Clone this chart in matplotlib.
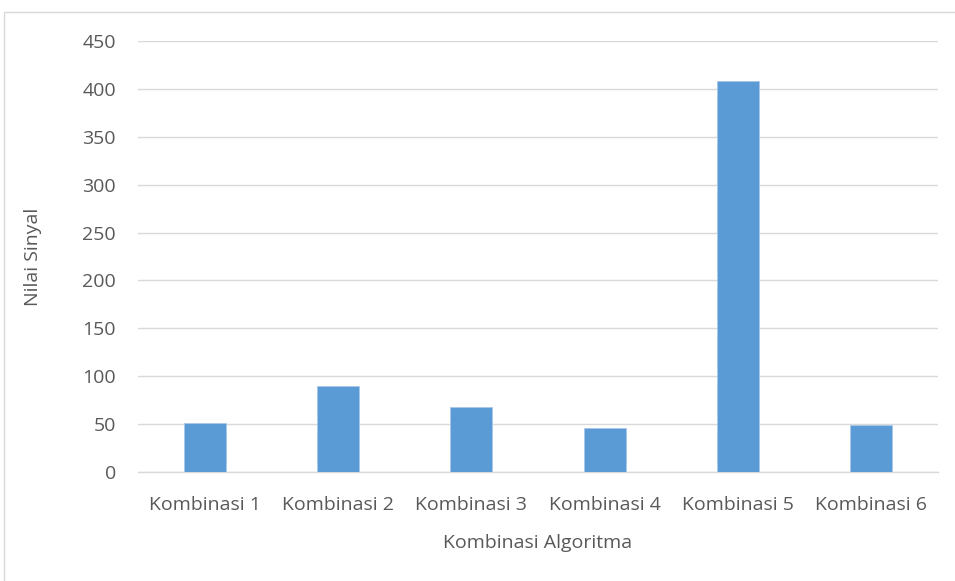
import matplotlib
matplotlib.use("Agg")
import matplotlib.pyplot as plt
from matplotlib.patches import Rectangle

categories = ["Kombinasi 1", "Kombinasi 2", "Kombinasi 3", "Kombinasi 4", "Kombinasi 5", "Kombinasi 6"]
values = [51, 90, 68, 46, 408, 49]
yticks = [0, 50, 100, 150, 200, 250, 300, 350, 400, 450]

plt.rcParams['font.family'] = ['Open Sans', 'DejaVu Sans']
fs = 14

fig = plt.figure(figsize=(9.55, 5.81), dpi=100)
fig.patches.append(Rectangle((4/955, -0.1), 1.2, 1 - 12/581 + 0.1, transform=fig.transFigure,
                             fill=False, edgecolor='#d9d9d9', linewidth=1.0))
ax = fig.add_axes([138/955, 1 - 472/581, 800/955, 431/581])

x = list(range(len(categories)))
ax.bar(x, values, width=0.315, color='#5b9bd5', edgecolor='#a9c8ea', linewidth=0.6, zorder=3)

ax.set_xlim(-0.5, len(categories) - 0.5)
ax.set_ylim(0, 450)
ax.set_yticks(yticks)
ax.set_yticklabels([str(t) for t in yticks])
ax.set_xticks(x)
ax.set_xticklabels(categories)
ax.grid(axis='y', color='#d9d9d9', linewidth=1.0, zorder=0)
for s in ['top', 'right', 'left']:
    ax.spines[s].set_visible(False)
ax.spines['bottom'].set_color('#d9d9d9')
ax.spines['bottom'].set_linewidth(1.0)
ax.tick_params(axis='both', length=0, colors='#595959', labelsize=fs)
ax.tick_params(axis='y', pad=16)
ax.tick_params(axis='x', pad=17)
ax.set_xlabel("Kombinasi Algoritma", fontsize=fs, color='#595959', labelpad=15)
ax.set_ylabel("Nilai Sinyal", fontsize=fs, color='#595959', labelpad=29)

fig.savefig("out.png", dpi=100)
